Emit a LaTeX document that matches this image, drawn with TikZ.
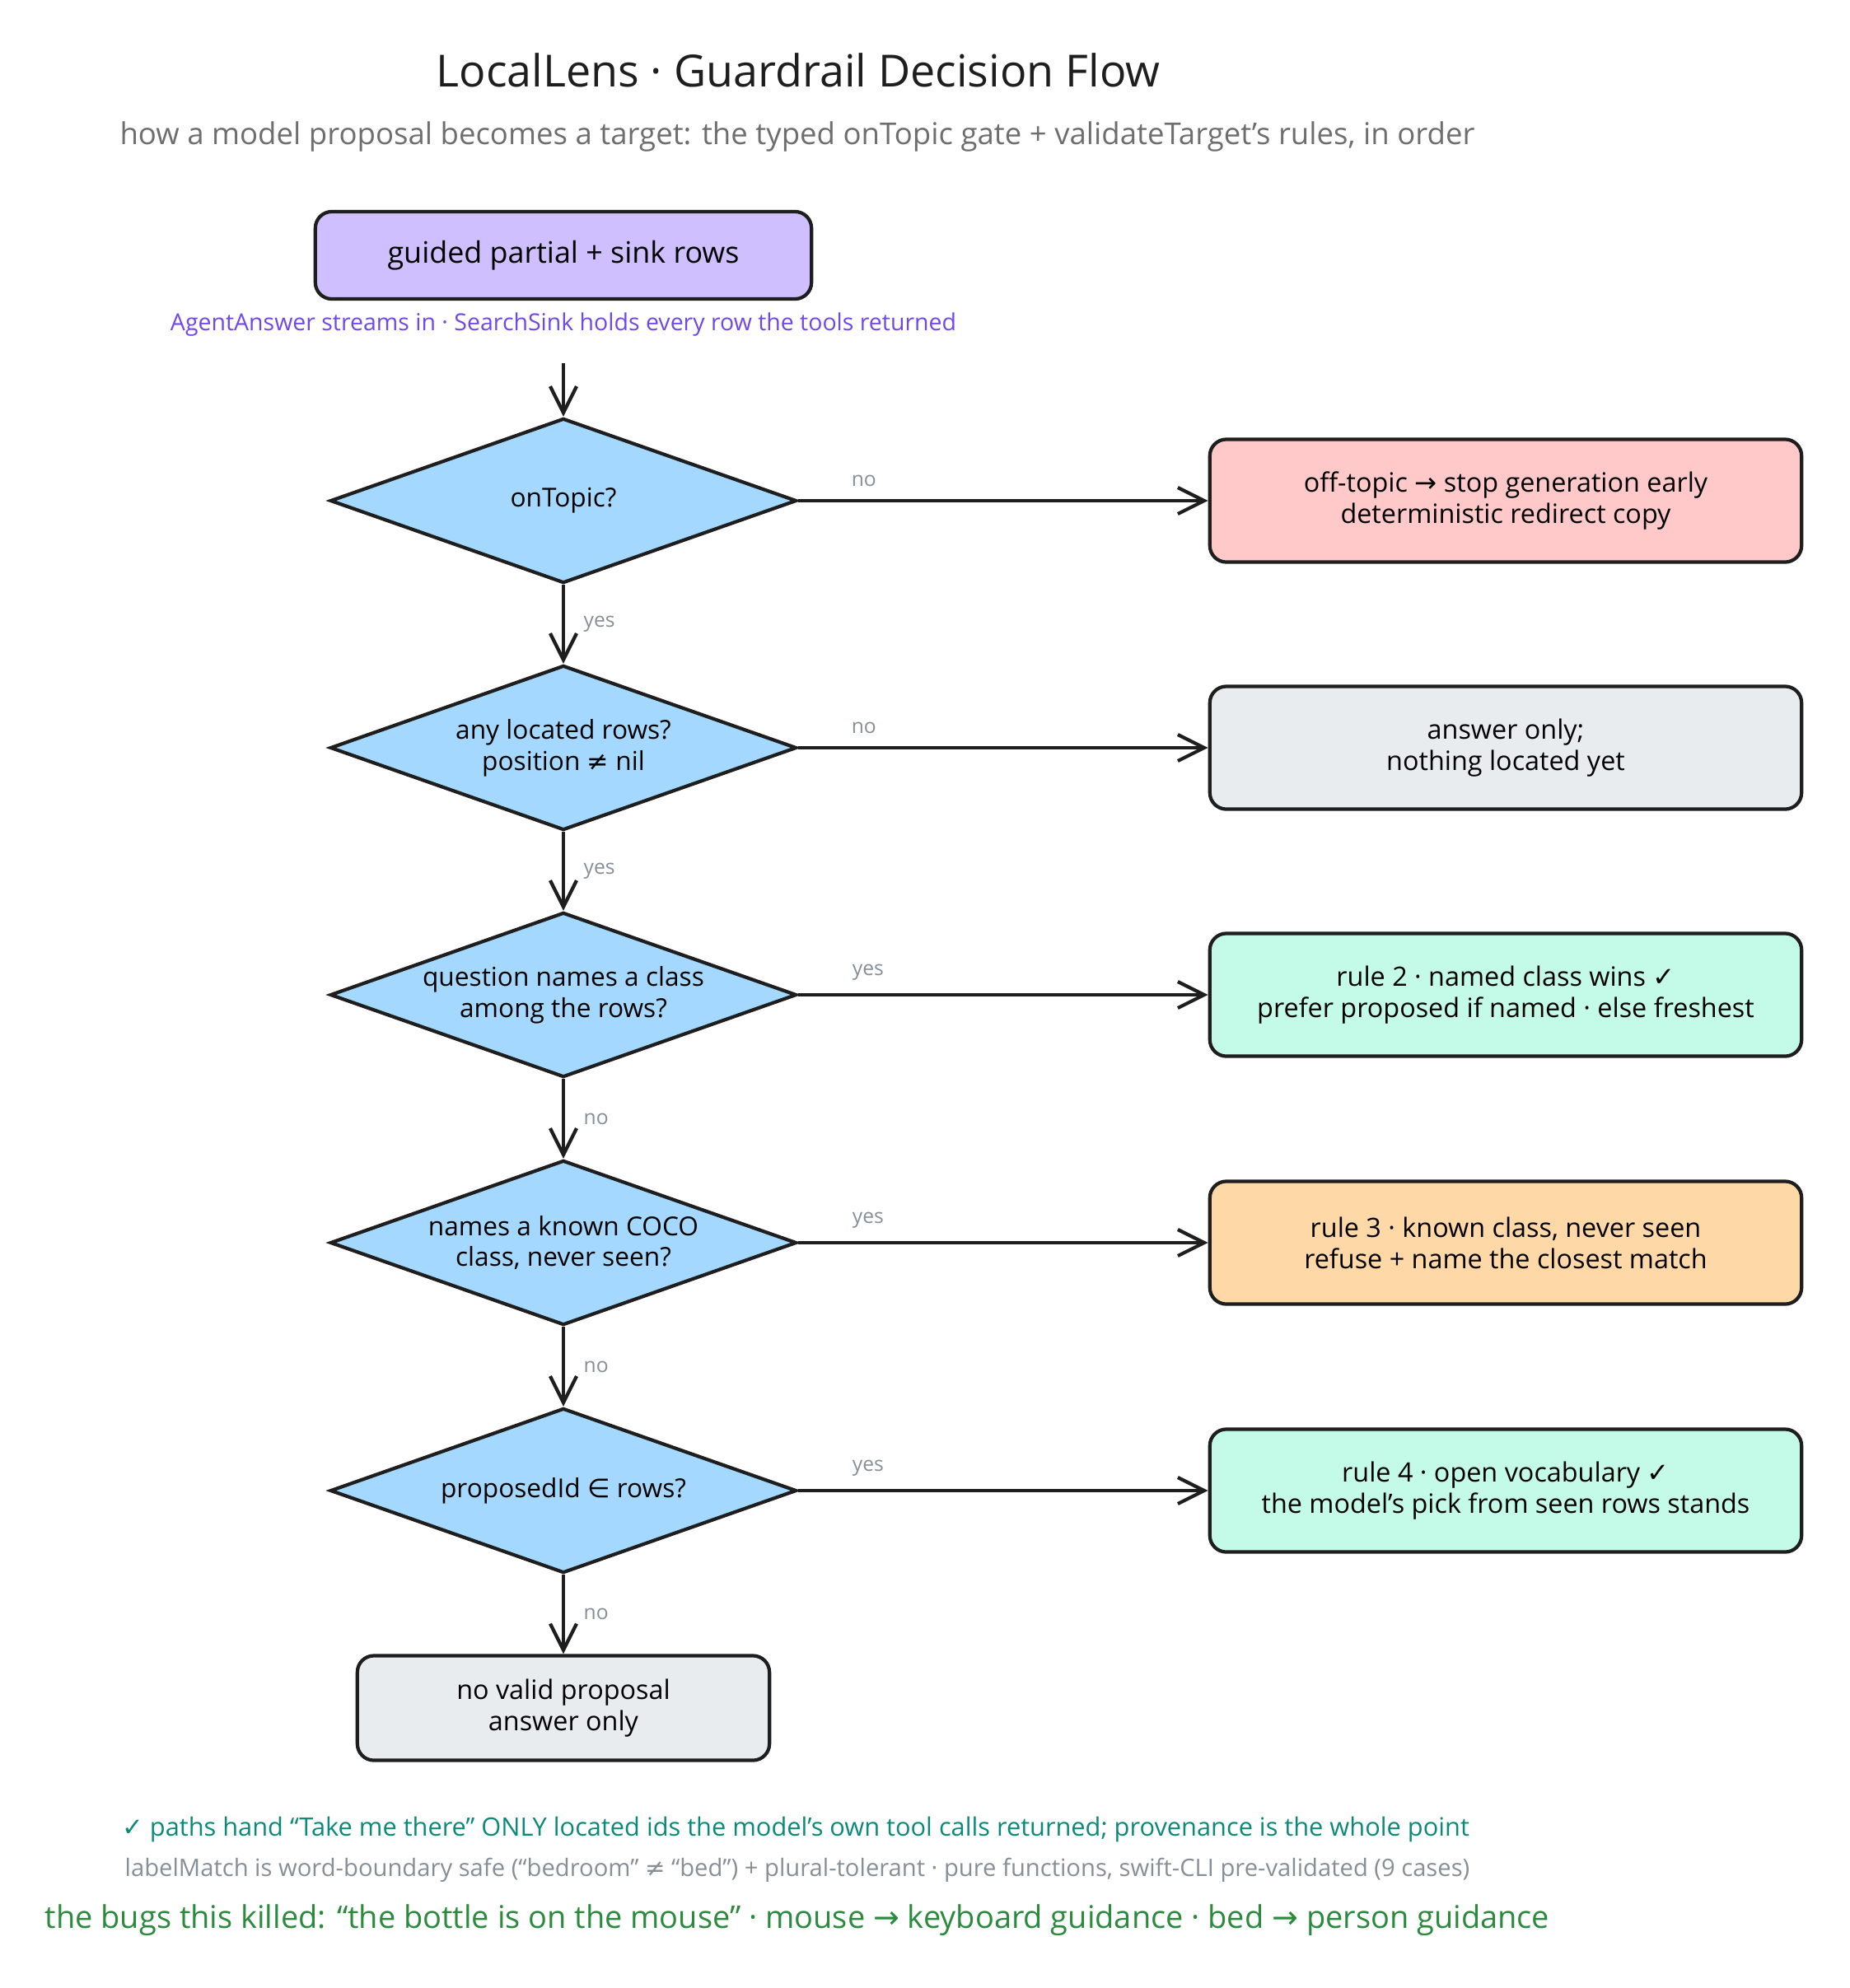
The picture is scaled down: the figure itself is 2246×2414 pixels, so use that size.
\documentclass[tikz,border=0pt]{standalone}
\usepackage{fontspec}
\setmainfont{Open Sans}
\newfontfamily\symfont{DejaVu Sans}
\usetikzlibrary{shapes.geometric,arrows.meta}
\newcommand{\sy}[1]{{\symfont #1}}
\definecolor{ink}{HTML}{1E1E1E}
\definecolor{askblue}{HTML}{A5D8FF}
\definecolor{lavender}{HTML}{D0BFFF}
\definecolor{offpink}{HTML}{FFC9C9}
\definecolor{quietgray}{HTML}{E9ECEF}
\definecolor{mint}{HTML}{C3FAE8}
\definecolor{peach}{HTML}{FFD8A8}
\definecolor{labelgray}{HTML}{868E96}
\definecolor{subgray}{HTML}{6E6E6E}
\definecolor{capviolet}{HTML}{7048E8}
\definecolor{noteteal}{HTML}{0C8A78}
\definecolor{bugsgreen}{HTML}{2B8A3E}

\begin{document}
\begin{tikzpicture}[x=0.01cm, y=-0.01cm,
	decision/.style={diamond, draw=ink, fill=askblue, line width=1.2pt, minimum width=5.66cm, minimum height=2cm, aspect=2.83, inner sep=0pt, align=center, font=\fontsize{9}{10.8}\selectfont},
	outcome/.style={rectangle, rounded corners=0.2cm, draw=ink, line width=1.2pt, minimum width=7.18cm, minimum height=1.49cm, align=center, font=\fontsize{9.2}{10.8}\selectfont},
	flow/.style={draw=ink, line width=1.2pt, -{Straight Barb[length=3.2mm, width=3.2mm]}},
	elabel/.style={font=\fontsize{7}{8}\selectfont, text=labelgray, inner sep=1pt}]
	\useasboundingbox (0,0) rectangle (2246,2414);
	\node[font=\fontsize{15.3}{17}\selectfont, text=ink] (title) at (969, 85) {LocalLens · Guardrail Decision Flow};
	\node[font=\fontsize{10.4}{12}\selectfont, text=subgray] (subtitle) at (968, 166) {how a model proposal becomes a target: the typed onTopic gate + validateTarget's rules, in order};
	\node[outcome, fill=lavender, minimum width=6.02cm, minimum height=1.06cm, font=\fontsize{10.2}{12}\selectfont] (src) at (684, 310) {guided partial + sink rows};
	\node[font=\fontsize{8.1}{9}\selectfont, text=capviolet] (srccap) at (684, 394) {AgentAnswer streams in · SearchSink holds every row the tools returned};
	\node[decision] (onTopic) at (684, 608) {onTopic?};
	\node[decision] (located) at (684, 908) {any located rows?\\position \sy{≠} nil};
	\node[decision] (named) at (684, 1208) {question names a class\\among the rows?};
	\node[decision] (coco) at (684, 1509) {names a known COCO\\class, never seen?};
	\node[decision] (proposed) at (684, 1810) {proposedId \sy{∈} rows?};
	\node[outcome, fill=offpink] (offTopic) at (1828, 608) {off-topic \sy{→} stop generation early\\deterministic redirect copy};
	\node[outcome, fill=quietgray] (answerOnly) at (1828, 908) {answer only;\\nothing located yet};
	\node[outcome, fill=mint] (rule2) at (1828, 1208) {rule 2 · named class wins \sy{✓}\\prefer proposed if named · else freshest};
	\node[outcome, fill=peach] (rule3) at (1828, 1509) {rule 3 · known class, never seen\\refuse + name the closest match};
	\node[outcome, fill=mint] (rule4) at (1828, 1810) {rule 4 · open vocabulary \sy{✓}\\the model's pick from seen rows stands};
	\node[outcome, fill=quietgray, minimum width=5cm, minimum height=1.27cm] (noProposal) at (684, 2074) {no valid proposal\\answer only};
	\draw[flow, shorten <=0.2cm] (srccap) -- (onTopic);
	\draw[flow] (onTopic) -- node[elabel, right=0.19cm] {yes} (located);
	\draw[flow] (located) -- node[elabel, right=0.19cm] {yes} (named);
	\draw[flow] (named) -- node[elabel, right=0.19cm] {no} (coco);
	\draw[flow] (coco) -- node[elabel, right=0.19cm] {no} (proposed);
	\draw[flow] (proposed) -- node[elabel, right=0.19cm] {no} (noProposal);
	\draw[flow] (onTopic) -- node[elabel, pos=0.16, above=0.12cm] {no} (offTopic);
	\draw[flow] (located) -- node[elabel, pos=0.16, above=0.12cm] {no} (answerOnly);
	\draw[flow] (named) -- node[elabel, pos=0.17, above=0.12cm] {yes} (rule2);
	\draw[flow] (coco) -- node[elabel, pos=0.17, above=0.12cm] {yes} (rule3);
	\draw[flow] (proposed) -- node[elabel, pos=0.17, above=0.12cm] {yes} (rule4);
	\node[font=\fontsize{8.75}{10}\selectfont, text=noteteal] (provenance) at (966, 2221) {\sy{✓} paths hand “Take me there” ONLY located ids the model's own tool calls returned; provenance is the whole point};
	\node[font=\fontsize{8.3}{10}\selectfont, text=labelgray] (labelMatch) at (968, 2271) {labelMatch is word-boundary safe (“bedroom” \sy{≠} “bed”) + plural-tolerant · pure functions, swift-CLI pre-validated (9 cases)};
	\node[font=\fontsize{10.8}{13}\selectfont, text=bugsgreen] (bugs) at (968, 2332) {the bugs this killed: “the bottle is on the mouse” · mouse \sy{→} keyboard guidance · bed \sy{→} person guidance};
\end{tikzpicture}
\end{document}
